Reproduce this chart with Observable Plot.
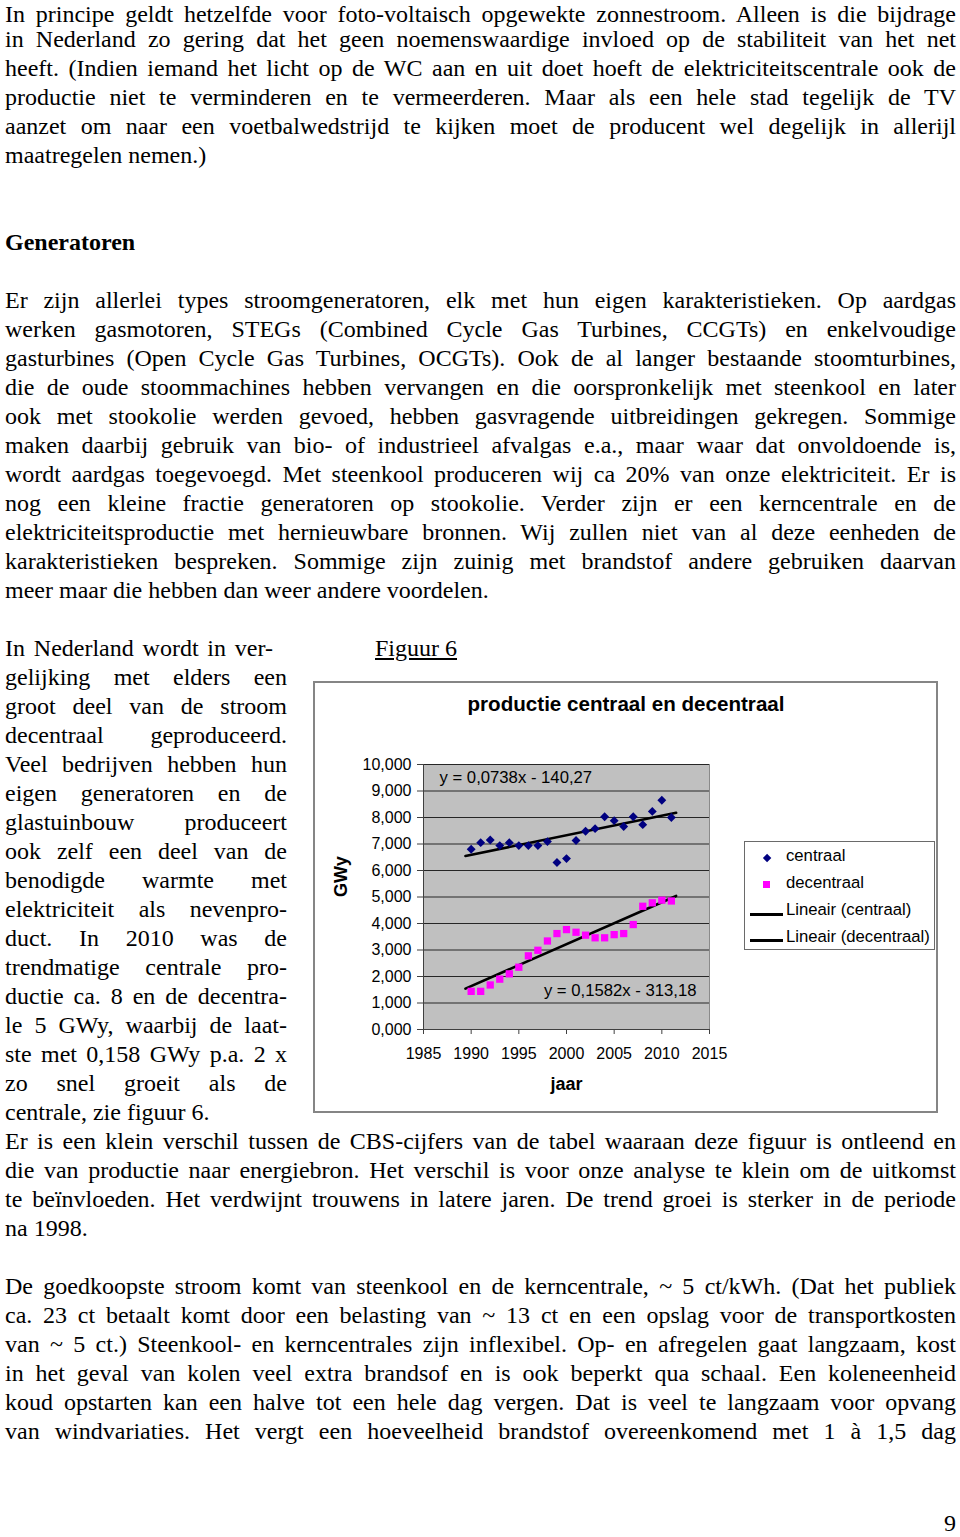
<!DOCTYPE html>
<html>
<head>
<meta charset="utf-8">
<script src="https://cdn.jsdelivr.net/npm/d3@7"></script>
<script src="https://cdn.jsdelivr.net/npm/@observablehq/plot@0.6"></script>
<style>
  html, body { margin: 0; padding: 0; background: #fff; }
  #page { position: relative; width: 960px; height: 1537px; overflow: hidden; background: #fff; color: #000; }
  .line { position: absolute; font-family: "Liberation Serif", "Times New Roman", serif; font-size: 24px; line-height: 20px; white-space: pre; }
  .sans { font-family: "Liberation Sans", Arial, sans-serif; }
  #chartbox { position: absolute; left: 313px; top: 681px; width: 625px; height: 432px; border: 2px solid #858585; box-sizing: border-box; }
  #title { position: absolute; left: 376px; top: 692px; width: 500px; text-align: center; font-size: 20.6px; font-weight: bold; line-height: 24px; }
  #plotwrap { position: absolute; left: 330px; top: 750px; width: 400px; height: 360px; }
  #legend { position: absolute; left: 744px; top: 841px; width: 191px; height: 109px; border: 1px solid #6a6a6a; box-sizing: border-box; }
  .lgtext { position: absolute; left: 786px; font-size: 16.7px; line-height: 20px; white-space: pre; }
  .lgkey { position: absolute; }
</style>
</head>
<body>
<div id="page">
  <div id="chartbox"></div>
  <div id="title" class="sans"></div>
  <div id="plotwrap"></div>
  <div id="legend"></div>
</div>
<script>
// ---------------- chart data ----------------
const chartTitle = "productie centraal en decentraal";
const seriesNames = ["centraal", "decentraal"];
const seriesColors = ["#000080", "#ff00ff"];
const years = [1990, 1991, 1992, 1993, 1994, 1995, 1996, 1997, 1998, 1999, 2000,
               2001, 2002, 2003, 2004, 2005, 2006, 2007, 2008, 2009, 2010, 2011];
const centraal = [6.80, 7.05, 7.15, 6.94, 7.05, 6.94, 6.94, 6.94, 7.09, 6.30, 6.45,
                  7.13, 7.48, 7.58, 8.03, 7.88, 7.66, 8.03, 7.73, 8.23, 8.65, 8.00];
const decentraal = [1.44, 1.44, 1.68, 1.90, 2.10, 2.35, 2.78, 2.99, 3.34, 3.62, 3.77,
                    3.67, 3.56, 3.46, 3.46, 3.58, 3.62, 3.96, 4.65, 4.78, 4.88, 4.85];
const trendSlopes = [0.0738, 0.1582];
const trendIntercepts = [-140.27, -313.18];
const trendNames = ["Lineair (centraal)", "Lineair (decentraal)"];
const xTicks = [1985, 1990, 1995, 2000, 2005, 2010, 2015];
const yTicks = [0, 1, 2, 3, 4, 5, 6, 7, 8, 9, 10];
const xLabel = "jaar";
const yLabel = "GWy";

// ---------------- body text ----------------
// [text, lineIndex, mode] mode: "j" justified full width, "l" last line, "b" bold heading, "c" justified column
const textLines = [
  ["In principe geldt hetzelfde voor foto-voltaisch opgewekte zonnestroom. Alleen is die bijdrage", 0, "j"],
  ["in Nederland zo gering dat het geen noemenswaardige invloed op de stabiliteit van het net", 1, "j"],
  ["heeft. (Indien iemand het licht op de WC aan en uit doet hoeft de elektriciteitscentrale ook de", 2, "j"],
  ["productie niet te verminderen en te vermeerderen. Maar als een hele stad tegelijk de TV", 3, "j"],
  ["aanzet om naar een voetbalwedstrijd te kijken moet de producent wel degelijk in allerijl", 4, "j"],
  ["maatregelen nemen.)", 5, "l"],
  ["Generatoren", 8, "b"],
  ["Er zijn allerlei types stroomgeneratoren, elk met hun eigen karakteristieken. Op aardgas", 10, "j"],
  ["werken gasmotoren, STEGs (Combined Cycle Gas Turbines, CCGTs) en enkelvoudige", 11, "j"],
  ["gasturbines (Open Cycle Gas Turbines, OCGTs). Ook de al langer bestaande stoomturbines,", 12, "j"],
  ["die de oude stoommachines hebben vervangen en die oorspronkelijk met steenkool en later", 13, "j"],
  ["ook met stookolie werden gevoed, hebben gasvragende uitbreidingen gekregen. Sommige", 14, "j"],
  ["maken daarbij gebruik van bio- of industrieel afvalgas e.a., maar waar dat onvoldoende is,", 15, "j"],
  ["wordt aardgas toegevoegd. Met steenkool produceren wij ca 20% van onze elektriciteit. Er is", 16, "j"],
  ["nog een kleine fractie generatoren op stookolie. Verder zijn er een kerncentrale en de", 17, "j"],
  ["elektriciteitsproductie met hernieuwbare bronnen. Wij zullen niet van al deze eenheden de", 18, "j"],
  ["karakteristieken bespreken. Sommige zijn zuinig met brandstof andere gebruiken daarvan", 19, "j"],
  ["meer maar die hebben dan weer andere voordelen.", 20, "l"],
  ["In Nederland wordt in ver-", 22, "c0"],
  ["gelijking met elders een", 23, "c"],
  ["groot deel van de stroom", 24, "c"],
  ["decentraal geproduceerd.", 25, "c"],
  ["Veel bedrijven hebben hun", 26, "c"],
  ["eigen generatoren en de", 27, "c"],
  ["glastuinbouw produceert", 28, "c"],
  ["ook zelf een deel van de", 29, "c"],
  ["benodigde warmte met", 30, "c"],
  ["elektriciteit als nevenpro-", 31, "c"],
  ["duct. In 2010 was de", 32, "c"],
  ["trendmatige centrale pro-", 33, "c"],
  ["ductie ca. 8 en de decentra-", 34, "c"],
  ["le 5 GWy, waarbij de laat-", 35, "c"],
  ["ste met 0,158 GWy p.a. 2 x", 36, "c"],
  ["zo snel groeit als de", 37, "c"],
  ["centrale, zie figuur 6.", 38, "l"],
  ["Er is een klein verschil tussen de CBS-cijfers van de tabel waaraan deze figuur is ontleend en", 39, "j"],
  ["die van productie naar energiebron. Het verschil is voor onze analyse te klein om de uitkomst", 40, "j"],
  ["te beïnvloeden. Het verdwijnt trouwens in latere jaren. De trend groei is sterker in de periode", 41, "j"],
  ["na 1998.", 42, "l"],
  ["De goedkoopste stroom komt van steenkool en de kerncentrale, ~ 5 ct/kWh. (Dat het publiek", 44, "j"],
  ["ca. 23 ct betaalt komt door een belasting van ~ 13 ct en een opslag voor de transportkosten", 45, "j"],
  ["van ~ 5 ct.) Steenkool- en kerncentrales zijn inflexibel. Op- en afregelen gaat langzaam, kost", 46, "j"],
  ["in het geval van kolen veel extra brandsof en is ook beperkt qua schaal. Een koleneenheid", 47, "j"],
  ["koud opstarten kan een halve tot een hele dag vergen. Dat is veel te langzaam voor opvang", 48, "j"],
  ["van windvariaties. Het vergt een hoeveelheid brandstof overeenkomend met 1 à 1,5 dag", 49, "j"]
];
const figureLabel = "Figuur 6";
const pageNumber = "9";

const page = document.getElementById("page");
const LEFT = 5, FULLW = 951, COLW = 282, PITCH = 29, TOP0 = 0.2;

function addLine(text, n, opts) {
  const div = document.createElement("div");
  div.className = "line";
  div.style.top = (TOP0 + PITCH * n + (opts.shift || 0)) + "px";
  div.style.left = (opts.left ?? LEFT) + "px";
  if (opts.bold) div.style.fontWeight = "bold";
  if (opts.underline) div.style.textDecoration = "underline";
  div.textContent = text;
  page.appendChild(div);
  if (opts.width) {
    const natural = div.getBoundingClientRect().width;
    const spaces = (text.match(/ /g) || []).length;
    if (spaces) div.style.wordSpacing = ((opts.width - natural) / spaces) + "px";
  }
  return div;
}

for (const [text, n, mode] of textLines) {
  // the very first line sits at the page edge; nudge it so its font box stays inside
  const shift = n === 0 ? 3.3 : 0;
  if (mode === "j") addLine(text, n, {width: FULLW, shift});
  else if (mode === "c") addLine(text, n, {width: COLW});
  else if (mode === "c0") addLine(text, n, {width: 268});
  else if (mode === "b") addLine(text, n, {bold: true});
  else addLine(text, n, {});
}
addLine(figureLabel, 22, {left: 375, underline: true});
const pn = addLine(pageNumber, 0, {left: 0});
Object.assign(pn.style, {left: "auto", right: "4px", top: "1513.5px", lineHeight: "18px"});

// ---------------- chart ----------------
document.getElementById("title").textContent = chartTitle;

const fmtComma = (v, d) => d3.format(`.${d}f`)(v).replace(".", ",");
const rows = [];
years.forEach((year, i) => {
  rows.push({year, value: centraal[i], series: seriesNames[0]});
  rows.push({year, value: decentraal[i], series: seriesNames[1]});
});
const [y0, y1] = d3.extent(years);
const trendRows = [];
seriesNames.forEach((s, k) => {
  for (const x of [y0 - 0.6, y1 + 0.5]) {
    trendRows.push({year: x, value: trendSlopes[k] * x + trendIntercepts[k], series: s});
  }
});
const eqText = seriesNames.map((s, k) =>
  `y = ${fmtComma(trendSlopes[k], 4)}x - ${fmtComma(-trendIntercepts[k], 2)}`);

const chart = Plot.plot({
  width: 400,
  height: 360,
  marginLeft: 93,
  marginRight: 21,
  marginTop: 14,
  marginBottom: 81,
  x: {domain: [xTicks[0], xTicks[xTicks.length - 1]]},
  y: {domain: [yTicks[0], yTicks[yTicks.length - 1]]},
  style: {fontFamily: "'Liberation Sans', Arial, sans-serif", fontSize: "16px", background: "transparent", color: "black"},
  marks: [
    Plot.frame({fill: "#c0c0c0", stroke: "#8a8a8a"}),
    Plot.gridY(yTicks, {stroke: "#262626", strokeOpacity: 1}),
    Plot.ruleX([xTicks[0]], {stroke: "#404040"}),
    Plot.ruleY([yTicks[0]], {stroke: "#404040"}),
    Plot.axisX({ticks: xTicks, tickFormat: "d", tickSize: 5, tickPadding: 13, label: null, stroke: "#404040", fill: "black"}),
    Plot.axisY({ticks: yTicks, tickFormat: v => fmtComma(v, 3), tickSize: 6, tickPadding: 6, label: null, stroke: "#404040", fill: "black"}),
    Plot.line(trendRows, {x: "year", y: "value", z: "series", stroke: "black", strokeWidth: 2.6}),
    Plot.dot(rows.filter(d => d.series === seriesNames[0]), {x: "year", y: "value", symbol: "diamond2", r: 4.0, fill: seriesColors[0], stroke: "none"}),
    Plot.dot(rows.filter(d => d.series === seriesNames[1]), {x: "year", y: "value", symbol: "square", r: 4.1, fill: seriesColors[1], stroke: "none"}),
    Plot.text([eqText[0]], {text: d => d, frameAnchor: "top-left", lineAnchor: "middle", dx: 16, dy: 13, textAnchor: "start", fontSize: 16.7}),
    Plot.text([eqText[1]], {text: d => d, frameAnchor: "bottom-right", lineAnchor: "middle", dx: -13, dy: -39, textAnchor: "end", fontSize: 16.7}),
    Plot.text([xLabel], {text: d => d, frameAnchor: "bottom", lineAnchor: "middle", dy: 55, fontWeight: "bold", fontSize: 18}),
    Plot.text([yLabel], {text: d => d, frameAnchor: "left", lineAnchor: "middle", dx: -82, rotate: -90, fontWeight: "bold", fontSize: 18})
  ]
});
document.getElementById("plotwrap").appendChild(chart);

// ---------------- legend ----------------
const legendEntries = [
  {label: seriesNames[0], kind: "diamond", color: seriesColors[0]},
  {label: seriesNames[1], kind: "square", color: seriesColors[1]},
  {label: trendNames[0], kind: "line", color: "black"},
  {label: trendNames[1], kind: "line", color: "black"}
];
const legendBaselines = [862, 889, 916, 943];
const keyCenters = [858.3, 884.7, 914, 940];
legendEntries.forEach((e, i) => {
  const t = document.createElement("div");
  t.className = "lgtext sans";
  t.textContent = e.label;
  t.style.top = (legendBaselines[i] - 15.7) + "px";
  page.appendChild(t);
  const k = document.createElement("div");
  k.className = "lgkey";
  const cy = keyCenters[i];
  if (e.kind === "diamond") {
    Object.assign(k.style, {left: "763.6px", top: (cy - 3.1) + "px", width: "6.2px", height: "6.2px", background: e.color, transform: "rotate(45deg)"});
  } else if (e.kind === "square") {
    Object.assign(k.style, {left: "763.0px", top: (cy - 3.7) + "px", width: "7.4px", height: "7.4px", background: e.color});
  } else {
    Object.assign(k.style, {left: "750px", top: (cy - 1.5) + "px", width: "33px", height: "3px", background: e.color});
  }
  page.appendChild(k);
});
</script>
</body>
</html>
